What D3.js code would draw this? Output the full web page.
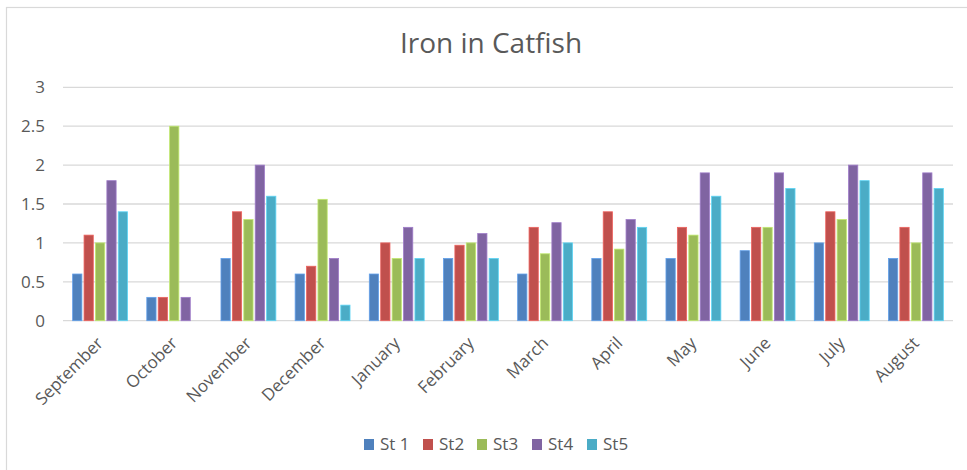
<!DOCTYPE html>
<html><head><meta charset="utf-8">
<script src="https://cdn.jsdelivr.net/npm/d3@7"></script>
<style>body{margin:0;background:#fff;}svg{display:block;font-family:"Open Sans",sans-serif;}</style>
</head><body>
<svg id="chart" width="967" height="470"></svg>
<script>
const months = ["September","October","November","December","January","February","March","April","May","June","July","August"];
const seriesNames = ["St 1","St2","St3","St4","St5"];
const seriesColors = ["#4F81BD","#C0504D","#9BBB59","#8064A2","#4BACC6"];
const st1 = [0.6,0.3,0.8,0.6,0.6,0.8,0.6,0.8,0.8,0.9,1.0,0.8];
const st2 = [1.1,0.3,1.4,0.7,1.0,0.97,1.2,1.4,1.2,1.2,1.4,1.2];
const st3 = [1.0,2.5,1.3,1.56,0.8,1.0,0.86,0.92,1.1,1.2,1.3,1.0];
const st4 = [1.8,0.3,2.0,0.8,1.2,1.12,1.26,1.3,1.9,1.9,2.0,1.9];
const st5 = [1.4,0,1.6,0.2,0.8,0.8,1.0,1.2,1.6,1.7,1.8,1.7];
const yTicks = [0,0.5,1,1.5,2,2.5,3];
const title = "Iron in Catfish";

const seriesValues = [st1,st2,st3,st4,st5];
const svg = d3.select("#chart");
const plotLeft = 63, plotRight = 953, plotTop = 87.3, plotBottom = 320.7;
const textColor = "#595959";

// chart border
svg.append("rect").attr("x",6.5).attr("y",7.5).attr("width",1000).attr("height",500)
  .attr("fill","none").attr("stroke","#D9D9D9").attr("stroke-width",1.2);

const x = d3.scaleBand().domain(months).range([plotLeft,plotRight]).padding(0);
const inner = d3.scaleBand().domain(seriesNames).range([x.bandwidth()*0.13, x.bandwidth()*0.87]).paddingInner(0.19).paddingOuter(0);
const y = d3.scaleLinear().domain([0,3]).range([plotBottom,plotTop]);

// gridlines
svg.append("g").selectAll("line").data(yTicks).join("line")
  .attr("x1",plotLeft).attr("x2",plotRight)
  .attr("y1",d=>y(d)).attr("y2",d=>y(d))
  .attr("stroke","#D9D9D9").attr("stroke-width",1.3);

// y labels
svg.append("g").selectAll("text").data(yTicks).join("text")
  .attr("x",45).attr("y",d=>y(d)).attr("dy","0.36em")
  .attr("text-anchor","end").attr("fill",textColor).attr("font-size",17)
  .text(d=>d);

// bars
const data = [];
months.forEach((m,i)=>seriesNames.forEach((s,j)=>data.push({m,s,j,v:seriesValues[j][i]})));
svg.append("g").selectAll("rect").data(data.filter(d=>d.v>0)).join("rect")
  .attr("x",d=>x(d.m)+inner(d.s))
  .attr("width",inner.bandwidth())
  .attr("y",d=>y(d.v))
  .attr("height",d=>y(0)-y(d.v))
  .attr("fill",d=>seriesColors[d.j])
  .attr("stroke",d=>d3.color(seriesColors[d.j]).brighter(0.6))
  .attr("stroke-width",0.8);

// x labels
svg.append("g").selectAll("text").data(months).join("text")
  .attr("transform",d=>`translate(${x(d)+x.bandwidth()/2},${340}) rotate(-45)`)
  .attr("text-anchor","end").attr("dy","0.35em")
  .attr("fill",textColor).attr("font-size",17)
  .text(d=>d);

// title
svg.append("text").attr("x",491).attr("y",53).attr("text-anchor","middle")
  .attr("fill",textColor).attr("font-size",28).text(title);

// legend
const legendX = [364,423,477,532,587];
const lg = svg.append("g").selectAll("g").data(seriesNames).join("g")
  .attr("transform",(d,i)=>`translate(${legendX[i]},439)`);
lg.append("rect").attr("width",10).attr("height",11).attr("fill",(d,i)=>seriesColors[i]);
lg.append("text").attr("x",16).attr("y",11).attr("fill",textColor).attr("font-size",17).text(d=>d);
</script>
</body></html>
